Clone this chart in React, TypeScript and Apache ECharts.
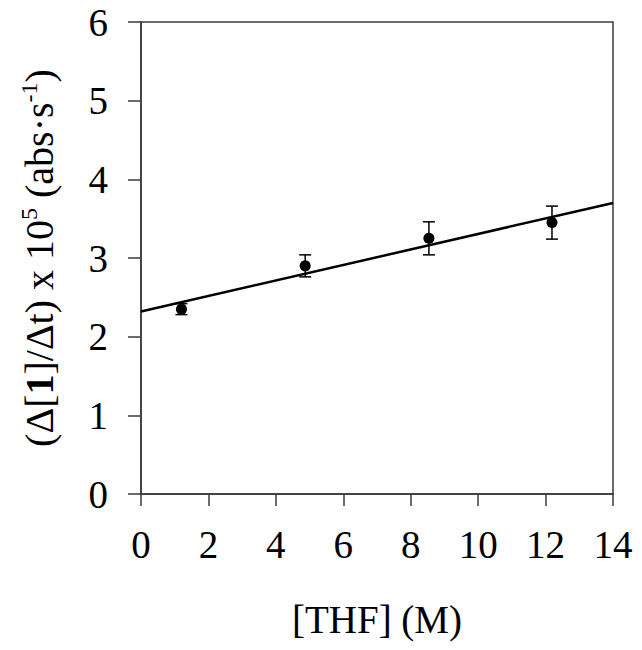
import React, { useEffect, useRef } from "react";
import * as echarts from "echarts";

const thfConc = [1.2, 4.87, 8.54, 12.19];
const rateValues = [2.35, 2.9, 3.25, 3.45];
const rateErrors = [0.07, 0.14, 0.21, 0.21];
const fitLine = [
  [0, 2.32],
  [14, 3.7],
];
const xTicks = [0, 2, 4, 6, 8, 10, 12, 14];
const yTicks = [0, 1, 2, 3, 4, 5, 6];

const FONT = "'Liberation Serif', 'Times New Roman', serif";
const AXIS_COLOR = "#3a3a3a";

export default function App() {
  const ref = useRef<HTMLDivElement>(null);
  useEffect(() => {
    if (!ref.current) return;
    const chart = echarts.init(ref.current, undefined, { renderer: "svg" });
    const points = thfConc.map((x, i) => [x, rateValues[i]]);
    const bars = thfConc.map((x, i) => [x, rateValues[i], rateErrors[i]]);
    chart.setOption({
      animation: false,
      backgroundColor: "#ffffff",
      grid: {
        left: 141,
        right: 29,
        top: 22,
        bottom: 156,
        show: true,
        borderColor: AXIS_COLOR,
        borderWidth: 1.5,
        backgroundColor: "transparent",
      },
      xAxis: {
        type: "value",
        min: xTicks[0],
        max: xTicks[xTicks.length - 1],
        interval: 2,
        name: "[THF] (M)",
        nameLocation: "middle",
        nameGap: 106,
        nameTextStyle: {
          fontFamily: FONT,
          fontSize: 39,
          color: "#000",
          verticalAlign: "top",
        },
        axisLine: { show: true, lineStyle: { color: AXIS_COLOR, width: 1.5 } },
        axisTick: {
          show: true,
          inside: false,
          length: 12,
          lineStyle: { color: AXIS_COLOR, width: 1.5 },
        },
        axisLabel: {
          fontFamily: FONT,
          fontSize: 39,
          color: "#000",
          margin: 31,
        },
        splitLine: { show: false },
      },
      yAxis: {
        type: "value",
        min: yTicks[0],
        max: yTicks[yTicks.length - 1],
        interval: 1,
        name:
          "{a|(Δ[}{b|1}{a|]/Δt) x 10}{sup|5}{a| (abs·s}{sup|-1}{a|)}",
        nameLocation: "middle",
        nameGap: 80,
        nameRotate: 90,
        nameTextStyle: {
          fontFamily: FONT,
          fontSize: 40,
          color: "#000",
          rich: {
            a: { fontFamily: FONT, fontSize: 40, color: "#000", lineHeight: 44 },
            b: {
              fontFamily: FONT,
              fontSize: 40,
              fontWeight: "bold",
              color: "#000",
              lineHeight: 44,
            },
            sup: {
              fontFamily: FONT,
              fontSize: 24,
              color: "#000",
              verticalAlign: "top",
              lineHeight: 24,
            },
          },
        },
        axisLine: { show: true, lineStyle: { color: AXIS_COLOR, width: 1.5 } },
        axisTick: {
          show: true,
          inside: false,
          length: 13,
          lineStyle: { color: AXIS_COLOR, width: 1.5 },
        },
        axisLabel: {
          fontFamily: FONT,
          fontSize: 39,
          color: "#000",
          margin: 33,
        },
        splitLine: { show: false },
      },
      series: [
        {
          type: "line",
          data: fitLine,
          symbol: "none",
          lineStyle: { color: "#000", width: 2.5 },
          z: 2,
        },
        {
          type: "custom",
          data: bars,
          z: 3,
          renderItem: (params: any, api: any) => {
            const x = api.value(0);
            const y = api.value(1);
            const e = api.value(2);
            const lo = api.coord([x, y - e]);
            const hi = api.coord([x, y + e]);
            const hw = 6;
            const style = { stroke: "#000", lineWidth: 1.5 };
            return {
              type: "group",
              children: [
                { type: "line", shape: { x1: lo[0], y1: lo[1], x2: hi[0], y2: hi[1] }, style },
                { type: "line", shape: { x1: lo[0] - hw, y1: lo[1], x2: lo[0] + hw, y2: lo[1] }, style },
                { type: "line", shape: { x1: hi[0] - hw, y1: hi[1], x2: hi[0] + hw, y2: hi[1] }, style },
              ],
            };
          },
        },
        {
          type: "scatter",
          data: points,
          symbol: "circle",
          symbolSize: 11,
          itemStyle: { color: "#000", opacity: 1 },
          z: 4,
        },
      ],
    });
    return () => chart.dispose();
  }, []);
  return (
    <div
      ref={ref}
      style={{ position: "absolute", left: 0, top: 0, width: 642, height: 650 }}
    />
  );
}
